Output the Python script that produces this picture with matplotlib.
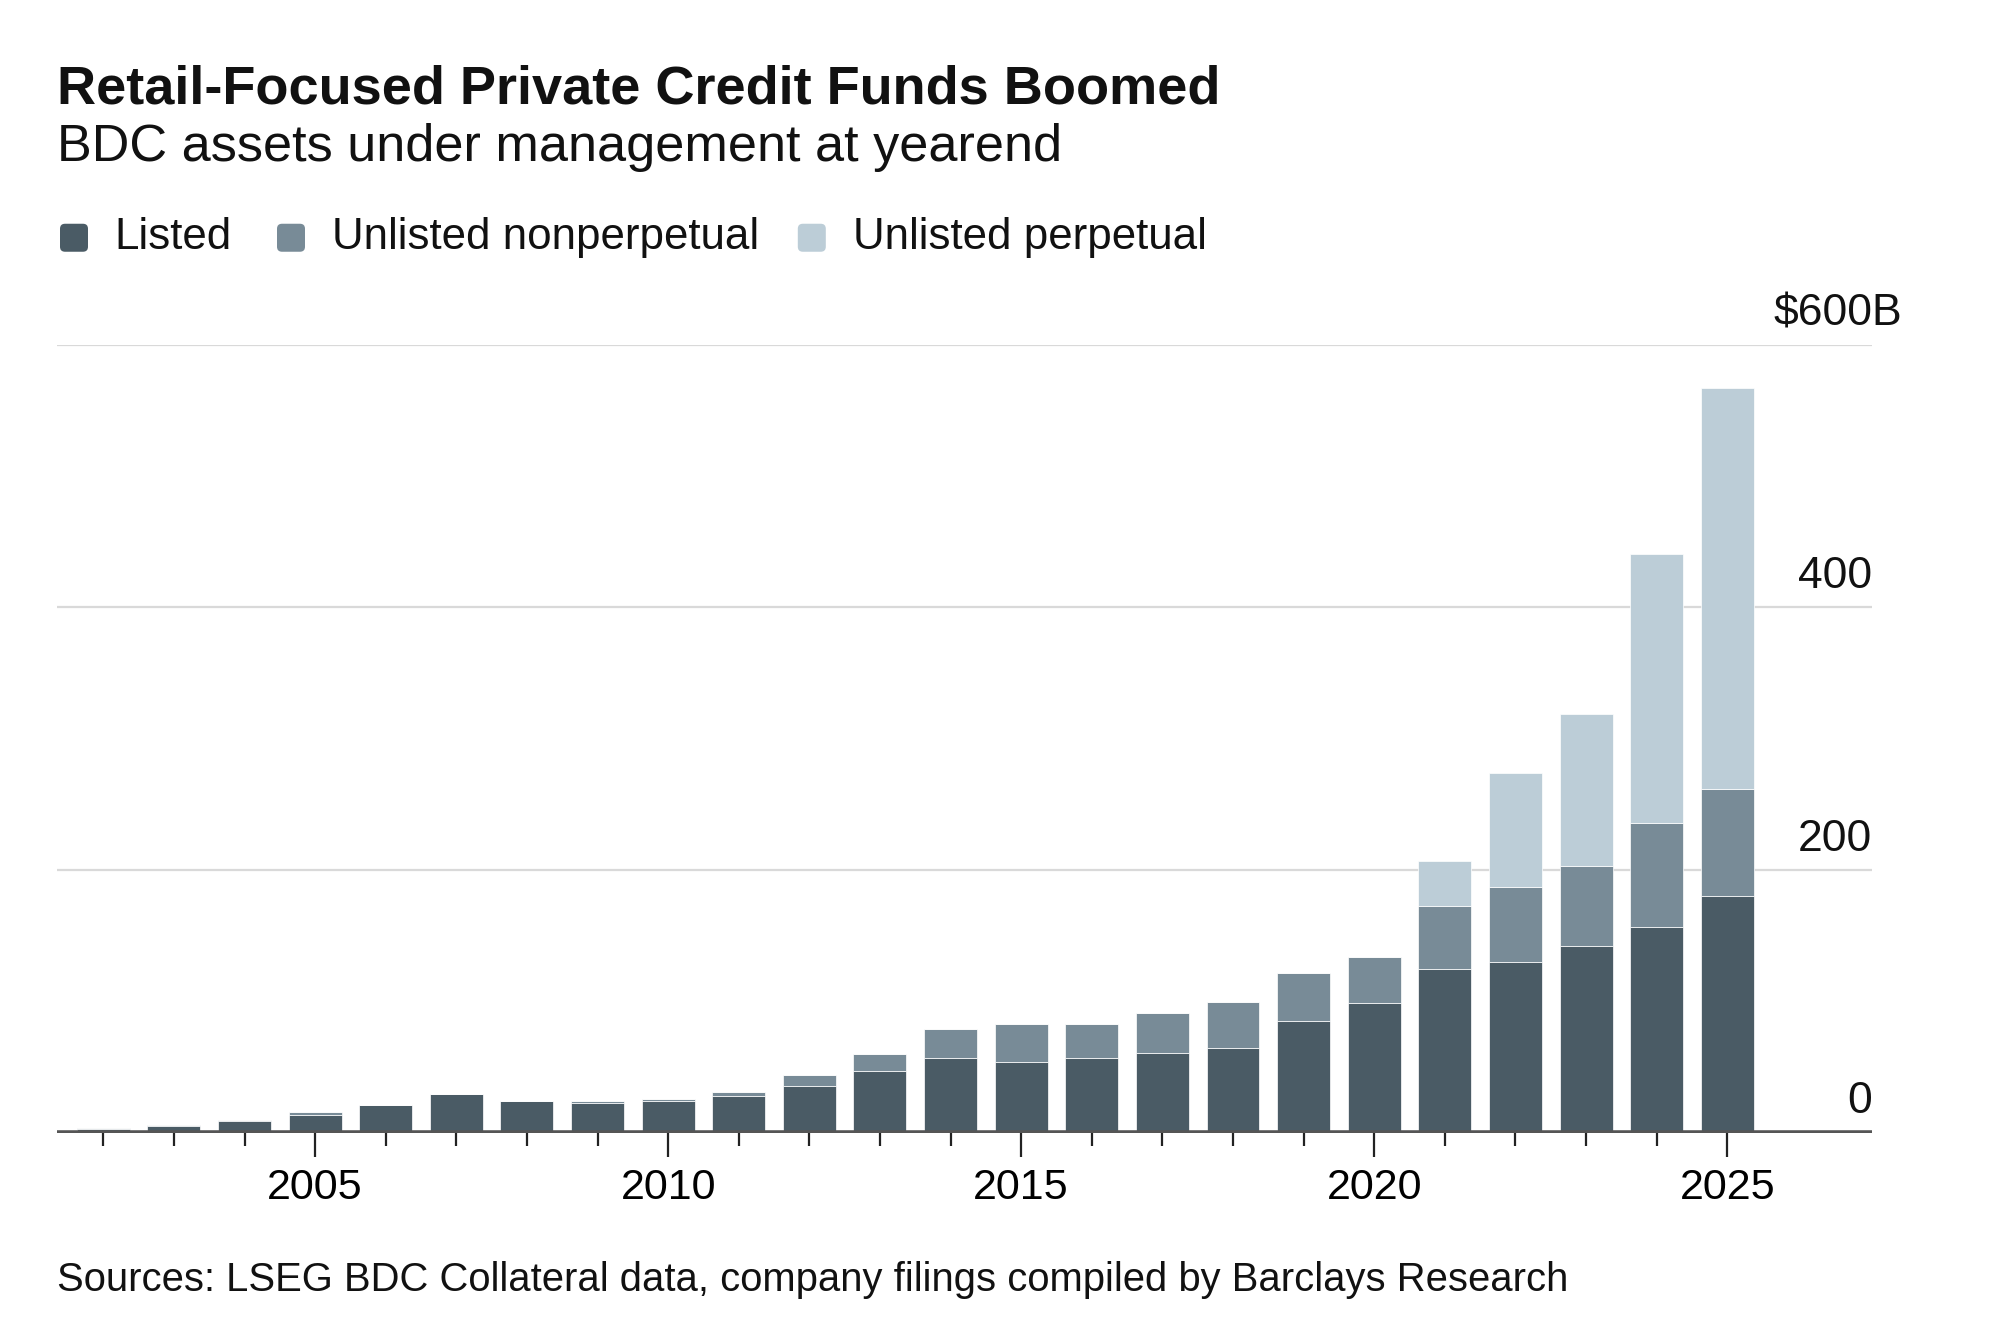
import matplotlib.pyplot as plt
from matplotlib.patches import FancyBboxPatch

plt.rcParams['font.family'] = ['Liberation Sans', 'DejaVu Sans']

# BDC assets under management at yearend, $B
years = list(range(2002, 2026))
listed = [3, 5, 9, 14, 21, 30, 24, 23, 24, 28, 36, 47, 57, 54, 57, 61, 65, 85, 99, 125, 130, 142, 157, 180]
nonperpetual = [1, 1, 1, 2, 0, 0, 0.5, 1, 1.5, 3, 8, 13, 22, 29, 26, 30, 35, 37, 35, 48, 57, 61, 79, 82]
perpetual = [0, 0, 0, 0, 0, 0, 0, 0, 0, 0, 0, 0, 0, 0, 0, 0, 0, 0, 0, 34, 87, 116, 205, 305]

series_names = ['Listed', 'Unlisted nonperpetual', 'Unlisted perpetual']
colors = ['#4a5b65', '#788b97', '#bccdd7']
y_ticks = [0, 200, 400, 600]
x_major = [2005, 2010, 2015, 2020, 2025]

fig = plt.figure(figsize=(10, 6.66), dpi=200)
ax = fig.add_axes([0.0287, 0.1494, 0.9073, 0.5919])

bottom2 = [a + b for a, b in zip(listed, nonperpetual)]
w = 0.75
ax.bar(years, listed, width=w, color=colors[0], edgecolor='#ffffff', linewidth=0.25, zorder=3)
ax.bar(years, nonperpetual, width=w, bottom=listed, color=colors[1], edgecolor='#ffffff', linewidth=0.25, zorder=3)
ax.bar(years, perpetual, width=w, bottom=bottom2, color=colors[2], edgecolor='#ffffff', linewidth=0.25, zorder=3)

ax.set_xlim(2001.35, 2027.05)
ax.set_ylim(0, 600)

for v in y_ticks[1:]:
    ax.axhline(v, color='#d9d9d9', lw=0.8, zorder=1)
ax.axhline(0, color='#555555', lw=2.0, zorder=4)

for s in ax.spines.values():
    s.set_visible(False)
ax.set_yticks([])

ax.set_xticks(x_major)
ax.set_xticks(years, minor=True)
ax.tick_params(axis='x', which='major', length=8.5, width=0.8, color='#222222',
               labelsize=15.5, pad=4)
ax.tick_params(axis='x', which='minor', length=4.5, width=0.8, color='#222222')
ax.set_xticklabels([str(x) for x in x_major])

# y labels sit above the gridlines, right aligned at the end of the grid
for v in y_ticks:
    lab = '$600B' if v == 600 else str(v)
    xx = 1.0165 if v == 600 else 1.0
    ax.text(xx, v + 8, lab, transform=ax.get_yaxis_transform(), ha='right', va='bottom',
            fontsize=16, color='#111111')

fig.text(0.0287, 0.922, 'Retail-Focused Private Credit Funds Boomed', fontsize=19.5,
         fontweight='bold', color='#111111', va='baseline')
fig.text(0.0287, 0.879, 'BDC assets under management at yearend', fontsize=18.8,
         color='#111111', va='baseline')

# legend
leg_x = [0.030, 0.1385, 0.3989]
for x0, name, c in zip(leg_x, series_names, colors):
    fig.add_artist(FancyBboxPatch((x0 * 10, 6.66 * 0.811), 0.14, 0.14,
                                  boxstyle='round,pad=0,rounding_size=0.025',
                                  transform=fig.dpi_scale_trans, facecolor=c, edgecolor='none'))
    fig.text(x0 + 0.0274, 0.8215, name, fontsize=15.8, color='#111111', va='center')

fig.text(0.0287, 0.031, 'Sources: LSEG BDC Collateral data, company filings compiled by Barclays Research',
         fontsize=14.4, color='#111111', va='baseline')

fig.savefig('out.png', dpi=200)
